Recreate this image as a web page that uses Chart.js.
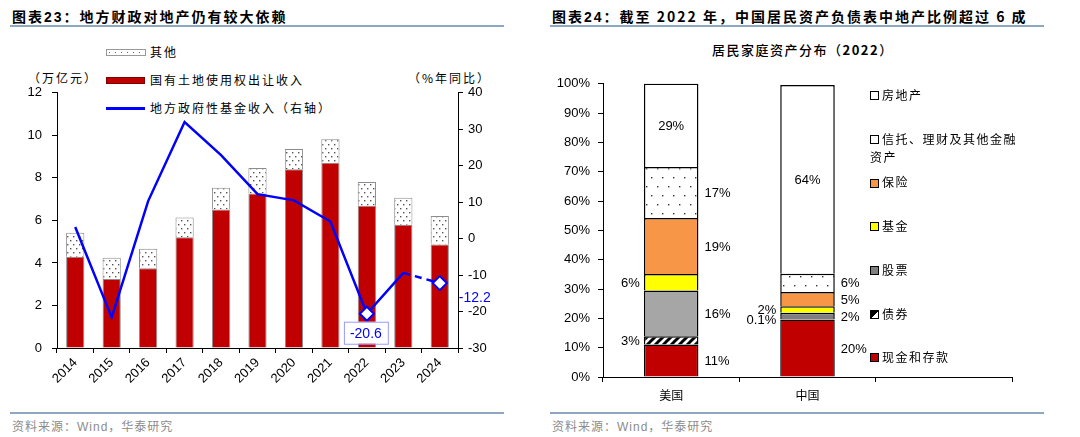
<!DOCTYPE html>
<html>
<head>
<meta charset="utf-8">
<script src="https://cdn.jsdelivr.net/npm/chart.js@4.4.1/dist/chart.umd.min.js"></script>
<style>
  body { margin: 0; width: 1080px; height: 437px; overflow: hidden; background: #fff;
         font-family: "Liberation Sans", "Noto Sans CJK SC", sans-serif; color: #000; }
  .abs { position: absolute; white-space: nowrap; }
  .title { font-size: 14px; font-weight: bold; letter-spacing: 2px; top: 6px; }
  .rule { position: absolute; height: 2px; background: #8ea7c2; }
  .src { font-size: 12px; color: #8c8c8c; letter-spacing: 1px; top: 417px; }
  .cjk { font-family: "Noto Sans CJK SC", sans-serif; }
  .lg { font-size: 12px; letter-spacing: 2px; }
  .rlg { font-size: 12px; letter-spacing: 1.5px; line-height: 18px; }
  .sq { display: inline-block; width: 7px; height: 7px; border: 1px solid #000; vertical-align: middle;
        margin-right: 3px; position: relative; top: -1px; }
</style>
</head>
<body>

<!-- 标题 -->
<div class="abs title" style="left:12px;">图表23：<span class="cjk">地方财政对地产仍有较大依赖</span></div>
<div class="rule" style="left:10px; width:494px; top:25px;"></div>
<div class="abs title" style="left:552px;">图表24：<span class="cjk">截至 2022 年，中国居民资产负债表中地产比例超过 6 成</span></div>
<div class="rule" style="left:550px; width:494px; top:25px;"></div>

<!-- 图表23 -->
<div class="abs cjk lg" style="left:28px; top:69px;">（万亿元）</div>
<div class="abs cjk lg" style="left:408px; top:69px;">（%年同比）</div>
<div id="leftLegend"></div>
<canvas id="fundChart" width="540" height="325" style="position:absolute; left:0; top:75px;"></canvas>

<!-- 图表24 -->
<div class="abs cjk" style="left:712px; top:40px; font-size:13px; letter-spacing:1.5px; font-weight:500;">居民家庭资产分布（<b>2022</b>）</div>
<canvas id="assetChart" width="540" height="342" style="position:absolute; left:540px; top:68px;"></canvas>
<div id="rightLegend"></div>

<!-- 资料来源 -->
<div class="rule" style="left:10px; width:494px; top:412px;"></div>
<div class="abs src" style="left:12px;">资料来源：Wind，华泰研究</div>
<div class="rule" style="left:550px; width:494px; top:412px;"></div>
<div class="abs src" style="left:552px;">资料来源：Wind，华泰研究</div>

<script>
// ===== 图表23 数据 =====
const years = ["2014", "2015", "2016", "2017", "2018", "2019", "2020", "2021", "2022", "2023", "2024"];
const landSales = [4.29, 3.25, 3.75, 5.21, 6.51, 7.26, 8.41, 8.71, 6.69, 5.80, 4.87];   // 国有土地使用权出让收入
const otherFund = [1.13, 0.99, 0.92, 0.93, 1.03, 1.20, 0.95, 1.11, 1.11, 1.27, 1.34];   // 其他
const fundYoy = [3.2, -21.6, 10.3, 32.0, 22.9, 12.2, 10.5, 4.7, -20.6, -9.4, -12.2];    // 地方政府性基金收入同比
const leftAxis = { min: 0, max: 12, step: 2 };
const rightAxis = { min: -30, max: 40, step: 10 };
const markedIdx = [8, 10];     // 带菱形标记和数值的点
const dashFromIdx = 9;         // 之后为虚线

// ===== 图表24 数据 =====
const regions = ["美国", "中国", ""];
const cashDeposit = [11.1, 19.6];
const bonds = [2.8, 0.1];
const stocks = [15.6, 2.2];
const funds = [5.6, 2.2];
const insurance = [19.1, 4.9];
const trustWealth = [17.4, 6.2];
const realEstate = [28.5, 64.4];
const pctAxis = { min: 0, max: 100, step: 10 };

Chart.defaults.font.family = '"Liberation Sans", Arial, "Noto Sans CJK SC", sans-serif';
Chart.defaults.font.size = 13;
Chart.defaults.color = "#000";

// 填充图案
function dotPattern(w, h, color) {
    const c = document.createElement("canvas");
    c.width = w; c.height = h;
    const g = c.getContext("2d");
    g.fillStyle = "#fff";
    g.fillRect(0, 0, w, h);
    g.fillStyle = color;
    g.fillRect(1, 1, 1.4, 1.4);
    g.fillRect(Math.round(w / 2) + 1, Math.round(h / 2) + 1, 1.4, 1.4);
    return g.createPattern(c, "repeat");
}
function stripePattern() {
    const c = document.createElement("canvas");
    c.width = 8; c.height = 8;
    const g = c.getContext("2d");
    g.fillStyle = "#fff";
    g.fillRect(0, 0, 8, 8);
    g.strokeStyle = "#000";
    g.lineWidth = 3;
    g.beginPath();
    g.moveTo(-2, 10); g.lineTo(10, -2);
    g.moveTo(-6, 6); g.lineTo(6, -6);
    g.moveTo(2, 14); g.lineTo(14, 2);
    g.stroke();
    return g.createPattern(c, "repeat");
}

// ---- 左图图例 ----
const leftLegendItems = [
    { label: "其他", kind: "dots" },
    { label: "国有土地使用权出让收入", kind: "red" },
    { label: "地方政府性基金收入（右轴）", kind: "line" },
];
document.getElementById("leftLegend").innerHTML = leftLegendItems.map((it, i) => {
    const top = 52 + i * 28;
    let mark = "";
    if (it.kind === "dots") mark = `<div style="position:absolute;left:106px;top:${top - 3}px;width:38px;height:5px;border:1px solid #999;background:#fff url('data:image/svg+xml;utf8,<svg xmlns=%22http://www.w3.org/2000/svg%22 width=%226%22 height=%225%22><rect x=%222%22 y=%222%22 width=%221%22 height=%221%22 fill=%22%23666%22/></svg>')"></div>`;
    if (it.kind === "red") mark = `<div style="position:absolute;left:106px;top:${top - 3}px;width:39px;height:7px;background:#c00000;border:1px solid #800000;box-sizing:border-box"></div>`;
    if (it.kind === "line") mark = `<div style="position:absolute;left:106px;top:${top - 1}px;width:39px;height:2.5px;background:#0000ff"></div>`;
    return mark + `<div class="abs cjk lg" style="left:150px;top:${top - 9}px;">${it.label}</div>`;
}).join("");

// ---- 左图: 折线数值标签 ----
const lineLabels = {
    id: "lineLabels",
    afterDatasetsDraw(chart) {
        const meta = chart.getDatasetMeta(2);
        const ctx = chart.ctx;
        ctx.save();
        ctx.font = '14px "Liberation Sans", Arial';
        ctx.fillStyle = "#0000ff";
        ctx.textBaseline = "middle";
        markedIdx.forEach((idx, k) => {
            const p = meta.data[idx];
            const txt = fundYoy[idx].toFixed(1);
            if (k === 0) {
                const w = ctx.measureText(txt).width + 12;
                const cy = p.y + 19;
                ctx.fillStyle = "#fff";
                ctx.fillRect(p.x - w / 2 - 1, cy - 11, w, 22);
                ctx.strokeStyle = "#9a9aff";
                ctx.lineWidth = 1;
                ctx.strokeRect(p.x - w / 2 - 1 + 0.5, cy - 11 + 0.5, w, 22);
                ctx.fillStyle = "#0000ff";
                ctx.textAlign = "center";
                ctx.fillText(txt, p.x - 1, cy + 1);
            } else {
                ctx.textAlign = "left";
                ctx.fillText(txt, p.x + 19, p.y + 15);
            }
        });
        ctx.restore();
    },
};

new Chart(document.getElementById("fundChart"), {
    data: {
        labels: years,
        datasets: [
            {
                type: "bar",
                label: "国有土地使用权出让收入",
                data: landSales,
                backgroundColor: "#c00000",
                borderColor: "#8c8c8c",
                borderWidth: 1,
                barPercentage: 0.5,
                categoryPercentage: 1,
                yAxisID: "y",
                order: 2,
            },
            {
                type: "bar",
                label: "其他",
                data: otherFund,
                backgroundColor: dotPattern(6, 8, "#555"),
                borderColor: "#8c8c8c",
                borderWidth: 1,
                barPercentage: 0.5,
                categoryPercentage: 1,
                yAxisID: "y",
                order: 2,
            },
            {
                type: "line",
                label: "地方政府性基金收入（右轴）",
                data: fundYoy,
                borderColor: "#0000ff",
                borderWidth: 2.5,
                tension: 0,
                yAxisID: "y1",
                order: 0,
                pointStyle: "rectRot",
                pointRadius: fundYoy.map((v, i) => (markedIdx.includes(i) ? 7 : 0)),
                pointBackgroundColor: "#fff",
                pointBorderColor: "#0000ff",
                pointBorderWidth: 2,
                segment: {
                    borderDash: (c) => (c.p0DataIndex >= dashFromIdx ? [7, 5] : undefined),
                },
            },
        ],
    },
    options: {
        responsive: false,
        animation: false,
        layout: { padding: { top: 7, left: 0, right: 0, bottom: 0 } },
        plugins: { legend: { display: false }, tooltip: { enabled: false } },
        scales: {
            x: {
                stacked: true,
                grid: { drawOnChartArea: false, tickLength: 5, color: "#000", offset: true },
                border: { color: "#000" },
                ticks: { minRotation: 45, maxRotation: 45, autoSkip: false, padding: 2 },
                afterFit: (s) => { s.height = 52; },
            },
            y: {
                stacked: true,
                position: "left",
                min: leftAxis.min,
                max: leftAxis.max,
                ticks: { stepSize: leftAxis.step, padding: 10 },
                grid: { drawOnChartArea: false, tickLength: 5, color: "#000" },
                border: { color: "#000" },
                afterFit: (s) => { s.width = 57; },
            },
            y1: {
                position: "right",
                min: rightAxis.min,
                max: rightAxis.max,
                ticks: { stepSize: rightAxis.step, padding: 5 },
                grid: { drawOnChartArea: false, tickLength: 5, color: "#000" },
                border: { color: "#000" },
                afterFit: (s) => { s.width = 82; },
            },
        },
    },
    plugins: [lineLabels],
});

// ===== 图表24 =====
const assetSeries = [
    { label: "现金和存款", data: cashDeposit, color: "#c00000", pos: ["right", "right"] },
    { label: "债券", data: bonds, color: stripePattern(), legend: "stripe", pos: ["left", "left"] },
    { label: "股票", data: stocks, color: ["#a6a6a6", "#7f7f7f"], legend: "#7f7f7f", pos: ["right", "right"] },
    { label: "基金", data: funds, color: "#ffff00", pos: ["left", "left"] },
    { label: "保险", data: insurance, color: "#f79646", pos: ["right", "right"] },
    { label: "信托、理财及其他金融资产", data: trustWealth, color: dotPattern(11, 18, "#333"), legend: "#fff", pos: ["right", "right"] },
    { label: "房地产", data: realEstate, color: "#fff", pos: ["in", "in"] },
];

const barLabels = {
    id: "barLabels",
    afterDatasetsDraw(chart) {
        const ctx = chart.ctx;
        ctx.save();
        ctx.font = '13px "Liberation Sans", Arial';
        ctx.fillStyle = "#000";
        ctx.textBaseline = "middle";
        chart.data.datasets.forEach((ds, di) => {
            chart.getDatasetMeta(di).data.forEach((bar, i) => {
                const v = ds.data[i];
                if (v == null) return;
                const { x, y, base, width } = bar.getProps(["x", "y", "base", "width"], true);
                const cy = (y + base) / 2 + 1;
                const txt = (v < 1 ? v.toFixed(1) : Math.round(v)) + "%";
                const pos = assetSeries[di].pos[i];
                if (pos === "in") {
                    ctx.textAlign = "center";
                    ctx.fillText(txt, x, cy);
                } else if (pos === "right") {
                    ctx.textAlign = "left";
                    ctx.fillText(txt, x + width / 2 + 6, cy);
                } else {
                    ctx.textAlign = "right";
                    ctx.fillText(txt, x - width / 2 - 4, cy);
                }
            });
        });
        ctx.restore();
    },
};

new Chart(document.getElementById("assetChart"), {
    type: "bar",
    data: {
        labels: regions,
        datasets: assetSeries.map((s) => ({
            label: s.label,
            data: s.data,
            backgroundColor: s.color,
            borderColor: "#000",
            borderWidth: 1.5,
            barPercentage: 0.4,
            categoryPercentage: 1,
        })),
    },
    options: {
        responsive: false,
        animation: false,
        layout: { padding: { top: 12, left: 0, right: 68, bottom: 0 } },
        plugins: { legend: { display: false }, tooltip: { enabled: false } },
        scales: {
            x: {
                stacked: true,
                grid: { drawOnChartArea: false, tickLength: 5, color: "#000", offset: true },
                border: { color: "#000" },
                ticks: { padding: 6, font: { family: '"Noto Sans CJK SC", sans-serif', size: 12 } },
                afterFit: (s) => { s.height = 33; },
            },
            y: {
                stacked: true,
                min: pctAxis.min,
                max: pctAxis.max,
                ticks: { stepSize: pctAxis.step, padding: 8, callback: (v) => v + "%" },
                grid: { drawOnChartArea: false, tickLength: 5, color: "#000" },
                border: { color: "#000" },
                afterFit: (s) => { s.width = 63; },
            },
        },
    },
    plugins: [barLabels],
});

// ---- 右图图例（自上而下与堆叠顺序相反）----
document.getElementById("rightLegend").innerHTML = assetSeries.slice().reverse().map((s, i) => {
    const top = 95 + i * 43.7;
    let bg = s.legend || s.color;
    let style = `background:${bg}`;
    if (s.legend === "stripe") style = "background:linear-gradient(135deg,#000 50%,#fff 50%)";
    const txt = s.label === "信托、理财及其他金融资产" ? "信托、理财及其他金融<br>资产" : s.label;
    return `<div class="abs cjk rlg" style="left:870px;top:${top - 9}px;"><span class="sq" style="${style}"></span>${txt}</div>`;
}).join("");
</script>
</body>
</html>
